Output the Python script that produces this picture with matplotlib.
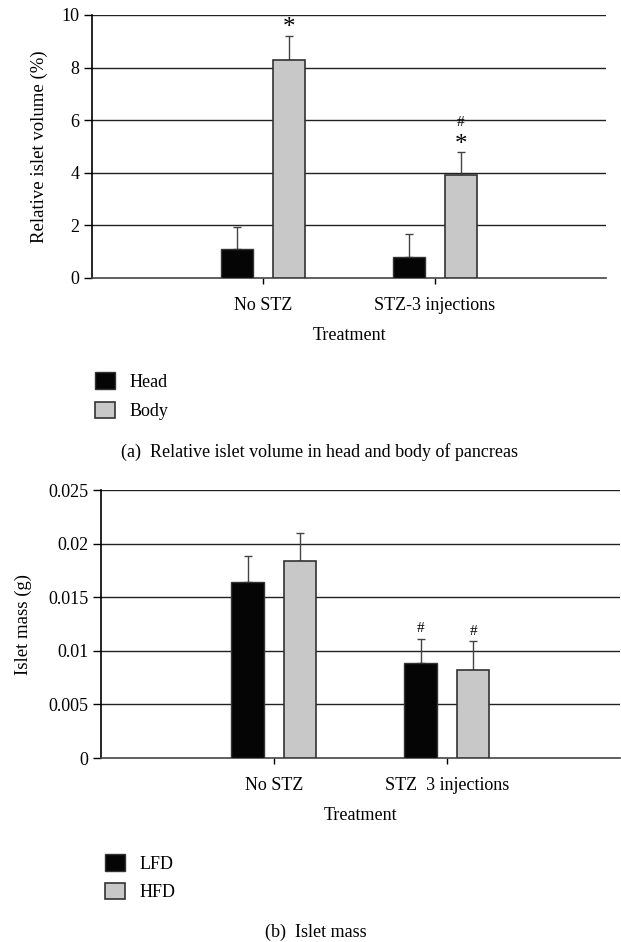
import numpy as np
import matplotlib.pyplot as plt

plt.rcParams['font.family'] = ['Liberation Serif', 'DejaVu Serif']

groups = ['No STZ', 'STZ-3 injections']
groups_b = ['No STZ', 'STZ  3 injections']

head = [1.1, 0.8]
head_err = [0.85, 0.88]
body = [8.3, 3.92]
body_err = [0.9, 0.88]

lfd = [0.0164, 0.0089]
lfd_err = [0.0024, 0.0022]
hfd = [0.0184, 0.0082]
hfd_err = [0.0026, 0.0027]

black = '#050505'
grey = '#c8c8c8'
edge = '#333333'
fs = 13

fig = plt.figure(figsize=(6.21, 9.42), dpi=100)
ax1 = fig.add_axes([0.148, 0.7049, 0.828, 0.2792])
ax2 = fig.add_axes([0.1626, 0.1953, 0.8354, 0.2845])

x = np.array([1, 2])
w = 0.187
off = 0.152


def draw(ax, a, aerr, b, berr, ylim, yticks, ylabels, labels, names):
    ba = ax.bar(x - off, a, w, color=black, edgecolor=edge, linewidth=1, zorder=3, label=names[0])
    bb = ax.bar(x + off, b, w, color=grey, edgecolor=edge, linewidth=1.2, zorder=3, label=names[1])
    for xs, v, e in [(x - off, a, aerr), (x + off, b, berr)]:
        ax.errorbar(xs, v, yerr=[np.zeros(len(v)), e], fmt='none', ecolor='#444444',
                    elinewidth=1, capsize=3, capthick=1, zorder=2)
    ax.set_xlim(0, 3)
    ax.set_ylim(*ylim)
    ax.set_yticks(yticks)
    ax.set_yticklabels(ylabels, fontsize=fs)
    ax.set_xticks(x)
    ax.set_xticklabels(labels, fontsize=fs)
    ax.tick_params(axis='x', direction='out', length=4, width=1, pad=10)
    ax.tick_params(axis='y', direction='out', length=6, width=1, pad=3)
    for t in yticks[1:]:
        ax.axhline(t, color='#222222', lw=1, zorder=1)
    ax.spines['top'].set_visible(False)
    ax.spines['right'].set_visible(False)
    ax.spines['left'].set_linewidth(1.2)
    ax.spines['bottom'].set_color('#444444')
    ax.spines['bottom'].set_linewidth(1.2)
    ax.set_xlabel('Treatment', fontsize=fs, labelpad=9)
    return ba, bb


h1 = draw(ax1, head, head_err, body, body_err, (0, 10), [0, 2, 4, 6, 8, 10],
          ['0', '2', '4', '6', '8', '10'], groups, ['Head', 'Body'])
ax1.set_ylabel('Relative islet volume (%)', fontsize=13.5, labelpad=10)
ax1.text(1 + off, 9.5, '*', ha='center', va='center', fontsize=18)
ax1.text(2 + off, 5.05, '*', ha='center', va='center', fontsize=18)
ax1.text(2 + off, 5.9, '#', ha='center', va='center', fontsize=11)

h2 = draw(ax2, lfd, lfd_err, hfd, hfd_err, (0, 0.025), [0, 0.005, 0.01, 0.015, 0.02, 0.025],
          ['0', '0.005', '0.01', '0.015', '0.02', '0.025'], groups_b, ['LFD', 'HFD'])
ax2.set_ylabel('Islet mass (g)', fontsize=13.5, labelpad=12)
ax2.text(2 - off, 0.0121, '#', ha='center', va='center', fontsize=11)
ax2.text(2 + off, 0.0118, '#', ha='center', va='center', fontsize=11)

fig.legend(handles=h1, loc='upper left', bbox_to_anchor=(0.127, 0.622), frameon=False,
           fontsize=fs, handlelength=1.1, handleheight=1.05, labelspacing=0.6, handletextpad=0.8)
fig.legend(handles=h2, loc='upper left', bbox_to_anchor=(0.143, 0.1104), frameon=False,
           fontsize=fs, handlelength=1.1, handleheight=1.05, labelspacing=0.55, handletextpad=0.8)

fig.text(0.515, 1 - 452 / 942, '(a)  Relative islet volume in head and body of pancreas',
         ha='center', va='center', fontsize=fs)
fig.text(0.509, 1 - 932 / 942, '(b)  Islet mass', ha='center', va='center', fontsize=fs)

fig.savefig('out.png', dpi=100)
